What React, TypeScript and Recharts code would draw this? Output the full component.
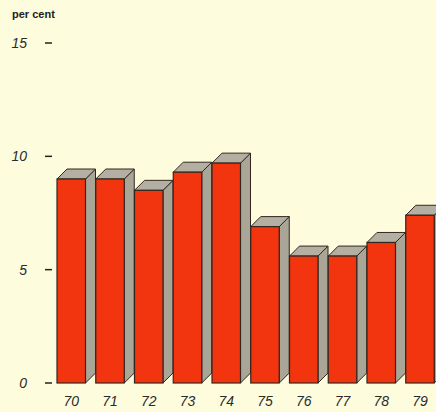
import React from "react";
import { BarChart, Bar, XAxis, YAxis } from "recharts";

const years = ["70", "71", "72", "73", "74", "75", "76", "77", "78", "79"];
const perCent = [9.0, 9.0, 8.5, 9.3, 9.7, 6.9, 5.6, 5.6, 6.2, 7.4];
const yTicks = [0, 5, 10, 15];

const data = years.map((year, i) => ({ year, value: perCent[i] }));

const BG = "#FDFCDD";
const RED = "#F2340F";
const SIDE = "#A9A698";
const TOP = "#B3B0A3";
const EDGE = "#34261f";
const DEPTH_X = 10;
const DEPTH_Y = 10;

// front face plus a grey side and top to give the block a 3-D look
const Block = (props: any) => {
  const { x, y, width, height } = props;
  if (height <= 0) return null;
  const r = x + width;
  const b = y + height;
  const side = `${r},${y} ${r + DEPTH_X},${y - DEPTH_Y} ${r + DEPTH_X},${b - DEPTH_Y} ${r},${b}`;
  const top = `${x},${y} ${x + DEPTH_X},${y - DEPTH_Y} ${r + DEPTH_X},${y - DEPTH_Y} ${r},${y}`;
  return (
    <g>
      <polygon points={side} fill={SIDE} stroke={EDGE} strokeWidth={1} strokeLinejoin="round" />
      <polygon points={top} fill={TOP} stroke={EDGE} strokeWidth={1} strokeLinejoin="round" />
      <rect x={x} y={y} width={width} height={height} fill={RED} stroke={EDGE} strokeWidth={1.2} />
    </g>
  );
};

const tickFont = {
  fontFamily: "'Liberation Sans', Arial, sans-serif",
  fontSize: 14,
  fontStyle: "italic",
  fill: "#2b2b2b",
};

export default function App() {
  return (
    <div
      style={{
        position: "fixed",
        left: 0,
        top: 0,
        width: 436,
        height: 412,
        overflow: "hidden",
        background: BG,
      }}
    >
      <div
        style={{
          position: "absolute",
          left: 12,
          top: 8,
          fontFamily: "'Liberation Sans', Arial, sans-serif",
          fontWeight: "bold",
          fontSize: 11,
          color: "#222",
        }}
      >
        per cent
      </div>
      <BarChart
        width={459.5}
        height={412}
        data={data}
        margin={{ top: 43, right: 20, bottom: 0, left: 0 }}
      >
        <XAxis
          dataKey="year"
          axisLine={false}
          tickLine={false}
          tickSize={0}
          tickMargin={13}
          height={29}
          interval={0}
          tick={tickFont}
        />
        <YAxis
          domain={[0, 15]}
          ticks={yTicks}
          width={52}
          axisLine={false}
          tickSize={7}
          tickMargin={18}
          tickLine={{ stroke: "#222", strokeWidth: 1.5 }}
          tick={tickFont}
        />
        <Bar dataKey="value" barSize={28.5} shape={Block} isAnimationActive={false} />
      </BarChart>
    </div>
  );
}
